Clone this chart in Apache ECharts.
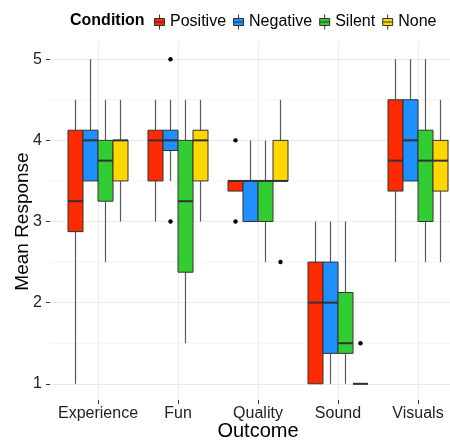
<!DOCTYPE html>
<html>
<head>
<meta charset="utf-8">
<script src="https://cdn.jsdelivr.net/npm/echarts@6/dist/echarts.min.js"></script>
<style>html,body{margin:0;padding:0;background:#fff;}#c{width:450px;height:441px;}</style>
</head>
<body>
<div id="c"></div>
<script>
// ---- Data ----
const categories = ['Experience', 'Fun', 'Quality', 'Sound', 'Visuals'];
const groups = ['Positive', 'Negative', 'Silent', 'None'];
const groupColors = ['#FF2A00', '#1E90FF', '#32CD32', '#FFD700'];
const yTicks = [1, 2, 3, 4, 5];
const yMinor = [1.5, 2.5, 3.5, 4.5];

// [low whisker, Q1, median, Q3, high whisker] per category
const positiveStats = [
  [1, 2.875, 3.25, 4.125, 4.5],
  [3, 3.5, 4, 4.125, 4.5],
  [3.375, 3.375, 3.5, 3.5, 3.5],
  [1, 1, 2, 2.5, 3],
  [2.5, 3.375, 3.75, 4.5, 5]
];
const negativeStats = [
  [3.5, 3.5, 4, 4.125, 5],
  [3.5, 3.875, 4, 4.125, 4.5],
  [3, 3, 3.5, 3.5, 4],
  [1, 1.375, 2, 2.5, 3],
  [3.5, 3.5, 4, 4.5, 5]
];
const silentStats = [
  [2.5, 3.25, 3.75, 4, 4.5],
  [1.5, 2.375, 3.25, 4, 4.5],
  [2.5, 3, 3.5, 3.5, 4],
  [1, 1.375, 1.5, 2.125, 3],
  [2.5, 3, 3.75, 4.125, 5]
];
const noneStats = [
  [3, 3.5, 4, 4, 4.5],
  [3, 3.5, 4, 4.125, 4.5],
  [3.5, 3.5, 3.5, 4, 4.5],
  [1, 1, 1, 1, 1],
  [2.5, 3.375, 3.75, 4, 4.5]
];
// outliers: [category index (1-based), group index, value]
const outliers = [
  [2, 1, 5], [2, 1, 3],
  [3, 0, 4], [3, 0, 3],
  [3, 3, 2.5],
  [4, 3, 1.5]
];

const allStats = [positiveStats, negativeStats, silentStats, noneStats];
const BOX_W = 0.1875; // dodge width 0.75 / 4

function boxRender(params, api) {
  const gi = params.seriesIndex - 1;
  const cat = api.value(0);
  const low = api.value(1), q1 = api.value(2), med = api.value(3), q3 = api.value(4), high = api.value(5);
  const xc = cat + (gi - 1.5) * BOX_W;
  const xl = api.coord([xc - BOX_W / 2, med])[0];
  const xr = api.coord([xc + BOX_W / 2, med])[0];
  const xm = api.coord([xc, med])[0];
  const yLow = api.coord([xc, low])[1];
  const yQ1 = api.coord([xc, q1])[1];
  const yMed = api.coord([xc, med])[1];
  const yQ3 = api.coord([xc, q3])[1];
  const yHigh = api.coord([xc, high])[1];
  const wStyle = { stroke: '#595959', lineWidth: 1.2 };
  return {
    type: 'group',
    children: [
      { type: 'line', shape: { x1: xm, y1: yQ3, x2: xm, y2: yHigh }, style: wStyle },
      { type: 'line', shape: { x1: xm, y1: yQ1, x2: xm, y2: yLow }, style: wStyle },
      { type: 'rect', shape: { x: xl, y: yQ3, width: xr - xl, height: yQ1 - yQ3 },
        style: { fill: groupColors[gi], stroke: '#333333', lineWidth: 1 } },
      { type: 'line', shape: { x1: xl, y1: yMed, x2: xr, y2: yMed },
        style: { stroke: '#333333', lineWidth: 2 } }
    ]
  };
}

const boxSeries = groups.map((g, gi) => ({
  name: g,
  type: 'custom',
  color: groupColors[gi],
  renderItem: boxRender,
  encode: { x: 0, y: [1, 2, 3, 4, 5] },
  data: allStats[gi].map((s, ci) => [ci + 1].concat(s)),
  z: 3
}));

const option = {
  animation: false,
  backgroundColor: '#ffffff',
  title: {
    text: 'Condition',
    left: 65, top: 8,
    textStyle: { fontFamily: 'Liberation Sans', fontSize: 16, fontWeight: 'bold', color: '#000' }
  },
  legend: {
    data: groups,
    left: 149, top: 9,
    itemWidth: 11, itemHeight: 15, itemGap: 7,
    icon: 'path://M0,4 L10,4 L10,11 L0,11 Z M0,7.5 L10,7.5 M5,0 L5,4 M5,11 L5,15',
    itemStyle: { borderColor: '#333333', borderWidth: 1 },
    textStyle: { fontFamily: 'Liberation Sans', fontSize: 16, color: '#000' }
  },
  grid: { left: 50, top: 43, width: 416, height: 357, containLabel: false, outerBoundsMode: 'none' },
  xAxis: {
    type: 'value', min: 0.4, max: 5.6,
    name: 'Outcome', nameLocation: 'middle', nameGap: 21, nameMoveOverlap: false,
    nameTextStyle: { fontFamily: 'Liberation Sans', fontSize: 20, color: '#000' },
    axisLine: { show: false },
    axisTick: { show: true, length: 4, customValues: [1, 2, 3, 4, 5], lineStyle: { color: '#333' } },
    axisLabel: { customValues: [1, 2, 3, 4, 5], margin: 6,
      formatter: v => categories[Math.round(v) - 1] || '',
      fontFamily: 'Liberation Sans', fontSize: 16, color: '#222' },
    splitLine: { show: true, lineStyle: { color: '#ebebeb', width: 1 } }
  },
  yAxis: {
    type: 'value', min: 0.8, max: 5.2,
    name: 'Mean Response', nameLocation: 'middle', nameGap: 18, nameRotate: 90, nameMoveOverlap: false,
    nameTextStyle: { fontFamily: 'Liberation Sans', fontSize: 19, color: '#000' },
    axisLine: { show: false },
    axisTick: { show: true, length: 4, customValues: yTicks, lineStyle: { color: '#333' } },
    axisLabel: { customValues: yTicks, margin: 8,
      fontFamily: 'Liberation Sans', fontSize: 16, color: '#222' },
    splitLine: { show: true, lineStyle: { color: '#ebebeb', width: 1 } }
  },
  series: [
    {
      type: 'custom',
      silent: true,
      z: 1,
      renderItem: function (params, api) {
        const cs = params.coordSys;
        const y = api.coord([1, api.value(0)])[1];
        return { type: 'line', shape: { x1: cs.x, y1: y, x2: cs.x + cs.width, y2: y },
          style: { stroke: '#f4f4f4', lineWidth: 1 } };
      },
      encode: { y: 0 },
      data: yMinor.map(v => [v])
    }
  ].concat(boxSeries).concat([
    {
      type: 'custom',
      z: 4,
      renderItem: function (params, api) {
        const xc = api.value(0) + (api.value(1) - 1.5) * BOX_W;
        const p = api.coord([xc, api.value(2)]);
        return { type: 'circle', shape: { cx: p[0], cy: p[1], r: 2.2 }, style: { fill: '#000' } };
      },
      encode: { x: 0, y: 2 },
      data: outliers
    }
  ])
};

const chart = echarts.init(document.getElementById('c'), null, { renderer: 'canvas' });
chart.setOption(option);
</script>
</body>
</html>
